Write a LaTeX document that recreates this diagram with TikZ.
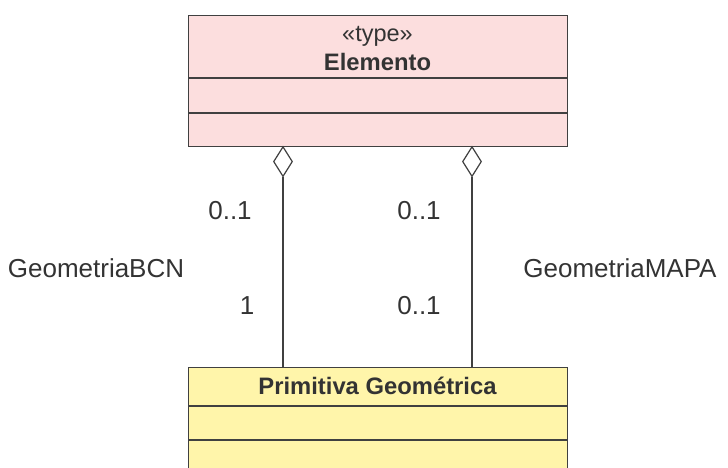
\documentclass[tikz,border=0pt]{standalone}
\usepackage{fontspec}
\setmainfont{Liberation Sans}
\usetikzlibrary{shapes.geometric}
\definecolor{pinkfill}{RGB}{252,222,222}
\definecolor{yellowfill}{RGB}{255,245,170}
\definecolor{linegray}{RGB}{64,64,64}
\definecolor{textgray}{RGB}{51,51,51}
\tikzset{
  umlbox/.style={draw=linegray, line width=1.4pt, inner sep=0pt, anchor=north west},
  lbl/.style={text=textgray, inner sep=0pt, font=\fontsize{26}{30}\selectfont},
  stereo/.style={text=textgray, inner sep=0pt, font=\fontsize{23.5}{28}\selectfont},
  bold/.style={text=textgray, inner sep=0pt, font=\fontsize{23.8}{28}\selectfont\bfseries},
  agg/.style={shape=diamond, draw=linegray, fill=white, line width=1.2pt, inner sep=0pt, minimum width=19pt, minimum height=30pt},
  conn/.style={draw=linegray, line width=1.1pt}
}
\begin{document}
\begin{tikzpicture}[x=1pt,y=-1pt]
\useasboundingbox (0,0) rectangle (728,468);
\clip (0,0) rectangle (728,468);
% Elemento class
\node[umlbox, fill=pinkfill, minimum width=379pt, minimum height=131pt] (elem) at (188,15) {};
\draw[linegray, line width=1.4pt] (188,78) -- (567,78);
\draw[linegray, line width=1.4pt] (188,113) -- (567,113);
\node[stereo] (stereotype) at (377.5,36) {«type»};
\node[bold] (elemname) at (377.5,62) {Elemento};
% Primitiva Geometrica class
\node[umlbox, fill=yellowfill, minimum width=379pt, minimum height=110pt] (prim) at (188,367) {};
\draw[linegray, line width=1.4pt] (188,406) -- (567,406);
\draw[linegray, line width=1.4pt] (188,440) -- (567,440);
\node[bold] (primname) at (377.5,386) {Primitiva Geométrica};
% aggregation diamonds
\node[agg, anchor=north] (dl) at (283,146) {};
\node[agg, anchor=north] (dr) at (472,146) {};
\draw[conn] (dl.south) -- (dl.south |- prim.north);
\draw[conn] (dr.south) -- (dr.south |- prim.north);
% labels
\node[lbl] (m1) at (230,211) {0..1};
\node[lbl] (m2) at (247,306) {1};
\node[lbl] (m3) at (419,211) {0..1};
\node[lbl] (m4) at (419,306) {0..1};
\node[lbl] (bcn) at (96,268) {GeometriaBCN};
\node[lbl] (mapa) at (620,268) {GeometriaMAPA};
\end{tikzpicture}
\end{document}
